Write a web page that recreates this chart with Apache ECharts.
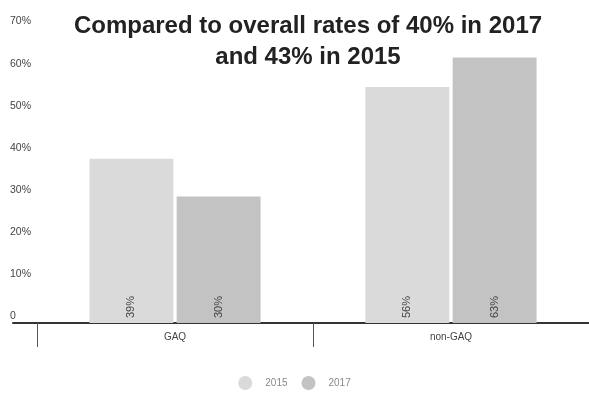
<!DOCTYPE html>
<html>
<head>
<meta charset="utf-8">
<script src="https://cdn.jsdelivr.net/npm/echarts@6/dist/echarts.min.js"></script>
<style>
  html, body { margin: 0; padding: 0; background: #ffffff; }
  #chart { width: 589px; height: 394px; }
</style>
</head>
<body>
<div id="chart"></div>
<script>
// Completion rates by group, 2015 vs 2017
const categories = ['GAQ', 'non-GAQ'];
const seriesNames = ['2015', '2017'];
const values2015 = [39, 56];
const values2017 = [30, 63];
const titleText = 'Compared to overall rates of 40% in 2017\nand 43% in 2015';

const colors = ['#dadada', '#c3c3c3'];
const font = '"Liberation Sans", Arial, sans-serif';

const chart = echarts.init(document.getElementById('chart'), null, { renderer: 'canvas' });

const barLabel = {
  show: true,
  position: 'insideBottom',
  rotate: 90,
  align: 'left',
  verticalAlign: 'middle',
  distance: 5,
  fontFamily: font,
  fontSize: 11,
  color: '#444444',
  formatter: p => p.value + '%'
};

chart.setOption({
  animation: false,
  backgroundColor: '#ffffff',
  title: {
    text: titleText,
    left: 303,
    textAlign: 'center',
    top: 6,
    textStyle: {
      fontFamily: font,
      fontWeight: 'bold',
      fontSize: 24,
      lineHeight: 31,
      color: '#222222'
    }
  },
  legend: {
    data: seriesNames,
    top: 376,
    left: 'center',
    padding: 0,
    icon: 'circle',
    itemWidth: 14,
    itemHeight: 14,
    itemGap: 14,
    textStyle: {
      fontFamily: font,
      fontSize: 10,
      color: '#888888',
      padding: [0, 0, 0, 8]
    }
  },
  grid: [
    { left: 37, right: 0, top: 28, bottom: 71, containLabel: false },
    { left: 13, right: 0, top: 28, bottom: 71, containLabel: false }
  ],
  xAxis: [
    {
      type: 'category',
      gridIndex: 0,
      data: categories,
      axisLine: { show: true, lineStyle: { color: '#333333', width: 2 } },
      axisTick: { show: true, length: 24, lineStyle: { color: '#555555', width: 1 } },
      axisLabel: { margin: 9, fontFamily: font, fontSize: 10, color: '#444444' }
    },
    {
      // baseline extension under the value labels
      type: 'value',
      gridIndex: 1,
      min: 0,
      max: 1,
      axisLine: { show: true, onZero: false, lineStyle: { color: '#333333', width: 2 } },
      axisTick: { show: false },
      axisLabel: { show: false },
      splitLine: { show: false }
    }
  ],
  yAxis: [
    {
      type: 'value',
      gridIndex: 0,
      min: 0,
      max: 70,
      interval: 10,
      axisLine: { show: false },
      axisTick: { show: false },
      splitLine: { show: false },
      axisLabel: {
        align: 'left',
        verticalAlign: 'bottom',
        margin: 27,
        padding: [0, 0, 1, 0],
        fontFamily: font,
        fontSize: 10.5,
        color: '#444444',
        formatter: v => (v === 0 ? '0' : v + '%')
      }
    },
    {
      type: 'value',
      gridIndex: 1,
      show: false,
      min: 0,
      max: 1
    }
  ],
  series: [
    {
      name: seriesNames[0],
      type: 'bar',
      xAxisIndex: 0,
      yAxisIndex: 0,
      data: values2015,
      itemStyle: { color: colors[0] },
      barCategoryGap: '38%',
      barGap: '4%',
      label: barLabel
    },
    {
      name: seriesNames[1],
      type: 'bar',
      xAxisIndex: 0,
      yAxisIndex: 0,
      data: values2017,
      itemStyle: { color: colors[1] },
      barCategoryGap: '38%',
      barGap: '4%',
      label: barLabel
    }
  ]
});
</script>
</body>
</html>
